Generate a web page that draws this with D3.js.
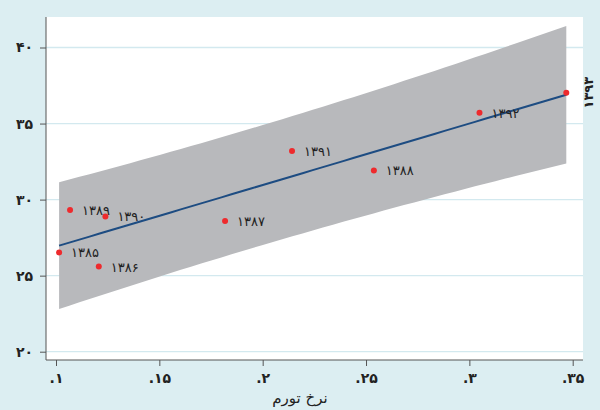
<!DOCTYPE html>
<html><head><meta charset="utf-8">
<script src="https://cdn.jsdelivr.net/npm/d3@7"></script>
<style>body{margin:0;background:#dceef2;} svg{display:block;}</style>
</head><body>
<svg id="c" width="600" height="410"></svg>
<script>
// Data
const years = ["۱۳۸۵","۱۳۸۶","۱۳۸۹","۱۳۹۰","۱۳۸۷","۱۳۹۱","۱۳۸۸","۱۳۹۲","۱۳۹۳"];
const inflation = [0.1015,0.1207,0.1068,0.1239,0.1818,0.2142,0.2538,0.3049,0.3469];
const values = [26.53,25.60,29.31,28.89,28.59,33.19,31.92,35.71,37.03];
const xTicks = [0.1,0.15,0.2,0.25,0.3,0.35];
const xTickLabels = [".۱",".۱۵",".۲",".۲۵",".۳",".۳۵"];
const yTicks = [20,25,30,35,40];
const yTickLabels = ["۲۰","۲۵","۳۰","۳۵","۴۰"];
const xTitle = "نرخ تورم";
const tCrit = 2.365; // t(0.975, n-2=7)

const svg = d3.select("#c");
const W=600,H=410;
svg.append("rect").attr("width",W).attr("height",H).attr("fill","#dceef2");
const pl=46, pr=583, pt=17, pb=360;
svg.append("rect").attr("x",pl).attr("y",pt).attr("width",pr-pl).attr("height",pb-pt).attr("fill","#ffffff");

const x = d3.scaleLinear().domain([0.1,0.35]).range([56,572.7]);
const y = d3.scaleLinear().domain([20,40]).range([351.7,47.5]);

// grid
svg.append("g").selectAll("line").data(yTicks).join("line")
  .attr("x1",pl).attr("x2",pr).attr("y1",d=>y(d)).attr("y2",d=>y(d))
  .attr("stroke","#d3e9ef").attr("stroke-width",1.3);

// OLS fit + prediction interval
const n=inflation.length;
const mx=d3.mean(inflation), my=d3.mean(values);
let sxx=0,sxy=0;
for(let i=0;i<n;i++){sxx+=(inflation[i]-mx)**2;sxy+=(inflation[i]-mx)*(values[i]-my);}
const b=sxy/sxx, a=my-b*mx;
let ssr=0; for(let i=0;i<n;i++){ssr+=(values[i]-a-b*inflation[i])**2;}
const s=Math.sqrt(ssr/(n-2));
const xmin=d3.min(inflation), xmax=d3.max(inflation);
const grid=d3.range(0,51).map(k=>xmin+(xmax-xmin)*k/50);
const band=grid.map(xv=>{const f=a+b*xv;const hw=tCrit*s*Math.sqrt(1+1/n+(xv-mx)**2/sxx);return {xv,f,lo:f-hw,hi:f+hw};});

svg.append("path").datum(band)
  .attr("d",d3.area().x(d=>x(d.xv)).y0(d=>y(d.lo)).y1(d=>y(d.hi)))
  .attr("fill","#b8b9bc");
svg.append("path").datum(band)
  .attr("d",d3.line().x(d=>x(d.xv)).y(d=>y(d.f)))
  .attr("fill","none").attr("stroke","#1d4c82").attr("stroke-width",2);

// axes
const yAxis = d3.axisLeft(y).tickValues(yTicks).tickSize(6).tickFormat((d,i)=>yTickLabels[i]);
const gy = svg.append("g").attr("transform",`translate(${pl},0)`).call(yAxis);
gy.select(".domain").attr("d",`M0,${pt}V${pb}`).attr("stroke","#555");
gy.selectAll(".tick line").attr("stroke","#555");
gy.selectAll(".tick text").attr("font-family","DejaVu Sans").attr("font-size",14).attr("font-weight","bold").attr("fill","#222").attr("x",-13).attr("dy","0.32em");

const xAxis = d3.axisBottom(x).tickValues(xTicks).tickSize(6).tickFormat((d,i)=>xTickLabels[i]);
const gx = svg.append("g").attr("transform",`translate(0,${pb})`).call(xAxis);
gx.select(".domain").attr("d",`M${pl},0H${pr}`).attr("stroke","#555");
gx.selectAll(".tick line").attr("stroke","#555");
gx.selectAll(".tick text").attr("font-family","DejaVu Sans").attr("font-size",14).attr("font-weight","bold").attr("fill","#222").attr("y",13);

svg.append("text").attr("x",300).attr("y",403).attr("text-anchor","middle")
  .attr("font-family","DejaVu Sans").attr("font-size",15).attr("fill","#222").text(xTitle);

// points
const pts = years.map((yr,i)=>({yr,xv:inflation[i],yv:values[i]}));
svg.append("g").selectAll("circle").data(pts).join("circle")
  .attr("cx",d=>x(d.xv)).attr("cy",d=>y(d.yv)).attr("r",3).attr("fill","#ee2a2d");

// labels (last one rotated at the right edge)
svg.append("g").selectAll("text").data(pts.slice(0,n-1)).join("text")
  .attr("x",d=>x(d.xv)+12).attr("y",d=>y(d.yv)+5)
  .attr("font-family","DejaVu Sans").attr("font-size",13).attr("fill","#222")
  .text(d=>d.yr);
const last=pts[n-1];
svg.append("text").attr("transform",`translate(593,${y(last.yv)}) rotate(-90)`)
  .attr("text-anchor","middle").attr("font-family","DejaVu Sans").attr("font-size",13).attr("font-weight","bold").attr("fill","#222")
  .text(last.yr);
</script>
</body></html>
